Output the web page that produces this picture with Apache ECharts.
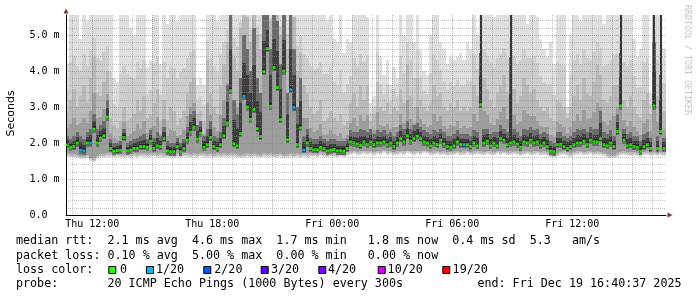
<!DOCTYPE html>
<html><head><meta charset="utf-8">
<script src="https://cdn.jsdelivr.net/npm/echarts@6/dist/echarts.min.js"></script>
<style>html,body{margin:0;padding:0;background:#fff}#c{width:697px;height:297px}</style>
</head><body><div id="c"></div>
<script>
// ---- time axis: hours since Thu 00:00 ----
const START_H = 10.75;      // first 10-min sample (Thu 10:45)
const STEP_H = 1 / 6;       // 10 minutes
const X_MIN = 10.685, X_MAX = 40.685;
const Y_MAX = 5.5556;       // ms

const X_LABEL_TICKS = [12, 18, 24, 30, 36];
const X_MAJOR_TICKS = [12, 15, 18, 21, 24, 27, 30, 33, 36, 39];
const X_MINOR_TICKS = [11, 13, 14, 16, 17, 19, 20, 22, 23, 25, 26, 28, 29, 31, 32, 34, 35, 37, 38, 40];
const Y_LABEL_TICKS = [0, 1, 2, 3, 4, 5];
const Y_MINOR_TICKS = [0.2, 0.4, 0.6, 0.8, 1.2, 1.4, 1.6, 1.8, 2.2, 2.4, 2.6, 2.8, 3.2, 3.4, 3.6, 3.8, 4.2, 4.4, 4.6, 4.8, 5.2, 5.4];

// median rtt (ms)
const MED = [
 1.95,1.88,1.9,2.0,1.8,1.78,2.0,2.0,2.38,2.0,
 2.13,2.2,2.72,1.85,1.77,1.79,1.8,2.15,1.78,1.8,
 1.85,1.85,1.9,1.9,1.88,2.05,1.85,1.92,1.9,2.12,
 1.78,1.75,1.75,1.9,1.75,1.85,2.08,2.3,2.44,2.11,
 2.27,1.88,1.95,2.15,1.9,1.85,1.95,2.2,2.55,3.45,
 1.98,1.92,2.26,3.3,3.0,2.66,2.93,2.4,2.18,3.98,
 4.62,3.02,4.1,3.54,2.65,4.0,2.09,3.48,2.99,1.95,
 2.42,1.81,2.0,1.85,1.81,1.81,1.88,1.85,1.78,1.8,
 1.82,1.78,1.78,1.77,1.85,2.03,2.0,1.97,1.93,2.03,
 1.95,2.03,1.95,2.0,2.0,2.03,1.95,2.0,1.9,2.0,
 2.12,2.03,2.2,2.05,2.12,2.19,2.12,2.03,2.0,1.92,
 2.0,1.95,2.08,1.97,1.9,1.88,1.92,2.03,1.95,1.95,
 1.95,1.9,2.0,1.92,3.06,2.0,2.05,1.92,2.0,1.92,
 2.12,2.08,1.95,2.0,2.03,1.97,1.88,2.03,2.0,2.08,
 2.0,2.03,1.92,2.0,1.9,1.77,1.75,1.95,1.97,1.9,
 1.85,1.9,1.95,2.0,2.0,2.05,1.95,2.08,2.03,2.03,
 2.12,1.95,1.92,2.0,1.9,2.32,3.03,2.08,1.92,1.95,
 1.9,1.88,1.77,1.9,1.95,1.85,3.03,1.85,2.32,1.85
];
// lowest ping (bottom of smoke)
const LO = [
 1.62,1.6,1.6,1.58,1.55,1.55,1.58,1.5,1.48,1.55,
 1.6,1.6,1.62,1.62,1.6,1.62,1.6,1.6,1.62,1.6,
 1.62,1.6,1.63,1.62,1.6,1.62,1.63,1.6,1.62,1.6,
 1.6,1.6,1.58,1.62,1.6,1.62,1.62,1.6,1.62,1.6,
 1.63,1.62,1.6,1.62,1.6,1.62,1.6,1.62,1.6,1.62,
 1.62,1.6,1.58,1.6,1.62,1.6,1.62,1.6,1.58,1.62,
 1.6,1.62,1.6,1.6,1.62,1.58,1.6,1.62,1.6,1.62,
 1.6,1.62,1.6,1.62,1.63,1.6,1.65,1.62,1.6,1.63,
 1.62,1.6,1.63,1.6,1.65,1.68,1.7,1.66,1.68,1.7,
 1.68,1.7,1.66,1.7,1.68,1.72,1.68,1.7,1.66,1.68,
 1.7,1.68,1.72,1.7,1.68,1.7,1.68,1.72,1.7,1.66,
 1.68,1.7,1.66,1.68,1.65,1.66,1.68,1.7,1.66,1.68,
 1.7,1.66,1.68,1.7,1.68,1.66,1.7,1.68,1.66,1.7,
 1.68,1.7,1.66,1.68,1.7,1.68,1.65,1.68,1.7,1.66,
 1.68,1.7,1.66,1.68,1.65,1.6,1.6,1.63,1.66,1.68,
 1.65,1.62,1.66,1.68,1.7,1.66,1.68,1.7,1.66,1.68,
 1.66,1.64,1.6,1.57,1.58,1.62,1.66,1.68,1.66,1.65,
 1.66,1.64,1.62,1.66,1.68,1.65,1.66,1.64,1.66,1.65
];
// highest ping (top of light smoke; values above the axis are clipped)
const HI = [
 4.2,6,6,6,4.9,6,5.4,6,6,6,
 6,6,6,6,3.8,3.7,6,6,6,5.2,
 5.0,6,6,6,4.1,4.3,6,6,4.2,6,
 5.3,6,6,5.4,6,6,6,6,6,3.6,
 3.8,3.6,6,6,6,5.4,6,6,6,6,
 6,6,6,6,6,6,6,6,6,6,
 6,6,6,6,6,6,6,6,6,6,
 6,6,6,5.6,6,6,6,6,5.4,6,
 4.9,4.8,6,4.5,4.9,4.8,6,6,6,6,
 5.5,3.1,3.3,6,4.4,3.9,4.3,3.6,4.1,3.8,
 6,5.0,6,6,4.8,5.9,4.6,4.0,3.9,5.0,
 6,6,4.8,4.6,4.2,4.4,4.3,4.4,4.5,4.3,
 4.8,4.6,6,5.0,6,6,6,6,5.5,6,
 6,6,6,6,6,6,6,6,5.3,6,
 6,5.5,4.9,4.6,4.4,4.8,4.2,6,6,6,
 3.0,5.0,6,6,5.4,6,6,6,6,6,
 6,5.3,6,6,6,6,6,6,6,6,
 4.9,4.4,4.6,6,6,3.4,6,6,6,4.6
];
// top of the medium-grey smoke
const MD = [
 2.9,3.2,3.5,3.0,3.3,3.6,3.1,3.8,4.4,3.4,
 3.3,3.7,4.0,2.7,2.5,2.4,2.6,3.0,2.6,2.7,
 2.8,3.2,2.9,3.3,2.7,2.8,3.1,3.5,2.6,3.2,
 2.6,3.0,2.9,2.5,2.7,2.9,3.4,3.7,3.8,2.8,
 2.9,2.6,4.3,3.4,3.0,2.8,3.6,4.2,4.8,6,
 4.4,4.0,5.2,6,5.5,4.8,6,5.0,4.6,6,
 6,5.4,6,6,5.0,6,4.6,6,5.5,4.0,
 4.5,3.6,3.4,3.0,2.8,2.9,3.2,2.6,2.7,2.9,
 2.7,2.6,2.8,2.5,2.6,3.1,3.4,3.0,3.6,3.2,
 3.6,2.6,2.8,3.7,3.0,2.9,3.1,2.8,3.0,2.9,
 3.5,3.1,4.2,3.3,3.0,3.8,3.2,3.0,2.9,3.1,
 3.6,3.3,3.4,3.0,2.9,3.1,3.0,3.2,2.9,3.0,
 2.9,3.0,3.6,3.3,4.5,3.8,3.5,3.2,3.0,3.4,
 3.6,3.9,3.4,4.4,3.5,3.1,3.3,3.8,3.6,3.4,
 3.5,3.2,3.0,2.9,3.0,2.7,2.6,3.2,3.1,3.0,
 2.7,3.0,3.3,3.6,3.2,3.8,3.4,3.3,3.7,4.2,
 3.9,3.2,3.1,3.3,3.6,3.6,4.5,3.2,3.0,3.3,
 3.0,2.8,2.7,3.2,3.4,2.8,4.8,3.3,3.9,2.9
];
// top of the dark smoke
const DK = [
 2.2,2.1,2.2,2.3,2.2,2.1,2.3,2.4,2.8,2.4,
 2.5,2.6,3.2,2.1,2.0,2.0,2.05,2.4,2.0,2.05,
 2.1,2.15,2.2,2.25,2.1,2.35,2.15,2.3,2.2,2.45,
 2.05,2.0,2.0,2.15,2.0,2.1,2.45,2.8,2.9,2.5,
 2.6,2.2,2.4,2.6,2.2,2.15,2.3,2.7,3.6,6,
 3.2,2.8,3.8,5.0,4.6,4.0,5.2,3.8,3.4,6,
 6,4.6,6,5.4,4.2,6,3.4,5.6,4.6,3.0,
 3.8,2.2,2.4,2.15,2.1,2.1,2.2,2.1,2.05,2.1,
 2.1,2.05,2.05,2.05,2.1,2.35,2.3,2.3,2.4,2.35,
 2.3,2.4,2.25,2.35,2.3,2.35,2.25,2.3,2.2,2.3,
 2.5,2.4,2.6,2.4,2.5,2.55,2.45,2.35,2.3,2.25,
 2.35,2.3,2.4,2.3,2.2,2.2,2.25,2.35,2.25,2.25,
 2.25,2.2,2.35,2.3,6,2.4,2.4,2.25,2.3,2.3,
 2.5,2.4,2.3,6,2.4,2.3,2.2,2.4,2.35,2.45,
 2.35,2.4,2.25,2.3,2.25,2.05,2.0,2.3,2.3,2.2,
 2.15,2.2,2.3,2.4,2.35,2.4,2.3,2.45,2.4,2.4,
 2.9,2.3,2.25,2.35,2.2,2.8,6,2.4,2.25,2.3,
 2.2,2.2,2.05,2.25,2.3,2.15,6,2.2,6,2.15
];
// samples with packet loss (index, lost pings of 20)
const LOSS_AT = [4, 5, 7, 53, 67, 68, 71, 119];
const LOSS_N  = [1, 1, 1, 1, 1, 1, 1, 1];

const LOSS_LABELS = ['0', '1/20', '2/20', '3/20', '4/20', '10/20', '19/20'];
const LOSS_STEPS  = [0, 1, 2, 3, 4, 10, 19];
const LOSS_COLORS = ['#26ff00', '#00b8ff', '#0059ff', '#5e00ff', '#7e00ff', '#dd00ff', '#ff0000'];

const LEGEND_LINES = [
  'median rtt:  2.1 ms avg  4.6 ms max  1.7 ms min   1.8 ms now  0.4 ms sd  5.3   am/s',
  'packet loss: 0.10 % avg  5.00 % max  0.00 % min   0.00 % now',
  'loss color:',
  'probe:       20 ICMP Echo Pings (1000 Bytes) every 300s'
];
const END_TEXT = 'end: Fri Dec 19 16:40:37 2025';

// ---------- build ----------
const TIMES = MED.map((_, i) => START_H + i * STEP_H);
const LOSS = MED.map(() => 0);
LOSS_AT.forEach((idx, k) => { LOSS[idx] = LOSS_N[k]; });
function lossColor(n) {
  let c = LOSS_COLORS[0];
  LOSS_STEPS.forEach((s, k) => { if (n >= s) c = LOSS_COLORS[k]; });
  return c;
}

const MONO = '"DejaVu Sans Mono", monospace';
const chart = echarts.init(document.getElementById('c'), null, { renderer: 'canvas' });

const smokeData = TIMES.map((t, i) => [t, LO[i], HI[i], MD[i], DK[i], MED[i]]);
const medData = TIMES.map((t, i) => [t, MED[i], LOSS[i]]);

function xfmt(v) {
  const day = v < 24 ? 'Thu' : 'Fri';
  const h = Math.round(v) % 24;
  return day + ' ' + String(h).padStart(2, '0') + ':00';
}

const graphics = [];
const LINE_Y = [241, 255.7, 270, 284.3];
LEGEND_LINES.forEach((txt, k) => {
  graphics.push({ type: 'text', x: 16, y: LINE_Y[k], style: { text: txt, font: '11.7px ' + MONO, fill: '#000', verticalAlign: 'middle' } });
});
graphics.push({ type: 'text', x: 681.5, y: LINE_Y[3], style: { text: END_TEXT, font: '11.7px ' + MONO, fill: '#000', align: 'right', verticalAlign: 'middle' } });
const BOX_X = [108.3, 146, 203.3, 260.7, 318.3, 377.7, 442.3];
const LAB_X = [120, 156, 214.3, 271, 328, 387.6, 452.6];
LOSS_LABELS.forEach((lab, k) => {
  graphics.push({ type: 'rect', shape: { x: BOX_X[k] + 0.5, y: 266.5, width: 7, height: 7 }, style: { fill: LOSS_COLORS[k], stroke: '#000', lineWidth: 1 } });
  graphics.push({ type: 'text', x: LAB_X[k], y: LINE_Y[2], style: { text: lab, font: '11.7px ' + MONO, fill: '#000', verticalAlign: 'middle' } });
});
graphics.push({ type: 'text', x: 11, y: 113.5, rotation: Math.PI / 2, style: { text: 'Seconds', font: '11px "DejaVu Sans"', fill: '#000', align: 'center', verticalAlign: 'middle' } });
graphics.push({ type: 'text', x: 687.5, y: 5, rotation: -Math.PI / 2, style: { text: 'RRDTOOL / TOBI OETIKER', font: '8.3px ' + MONO, fill: '#c4c4c4', align: 'left', verticalAlign: 'middle' } });

const GRID_MINOR = { show: true, lineStyle: { color: 'rgba(143,143,143,0.55)', type: [1, 1], width: 1 } };
const GRID_MAJOR = { show: true, lineStyle: { color: 'rgba(222,80,80,0.55)', type: [1, 1], width: 1 } };

chart.setOption({
  animation: false,
  backgroundColor: '#fff',
  grid: { left: 66, top: 15, width: 600, height: 200 },
  xAxis: [
    { type: 'value', min: X_MIN, max: X_MAX, position: 'bottom', z: 6,
      axisLine: { show: true, lineStyle: { color: '#000', width: 1 } },
      axisTick: { show: false, customValues: X_LABEL_TICKS },
      axisLabel: { customValues: X_LABEL_TICKS, formatter: xfmt, fontFamily: MONO, fontSize: 10, color: '#000', margin: 4 },
      splitLine: { show: false } },
    { type: 'value', min: X_MIN, max: X_MAX, position: 'bottom', z: 5,
      axisLine: { show: true, symbol: ['none', 'triangle'], symbolSize: [5, 5], symbolOffset: [0, 4], lineStyle: { color: '#7f3131', width: 0.01 } },
      axisTick: { show: false, customValues: X_MAJOR_TICKS },
      axisLabel: { show: false },
      splitLine: GRID_MAJOR },
    { type: 'value', min: X_MIN, max: X_MAX, position: 'bottom', z: 4,
      axisLine: { show: false },
      axisTick: { show: false, customValues: X_MINOR_TICKS },
      axisLabel: { show: false },
      splitLine: GRID_MINOR }
  ],
  yAxis: [
    { type: 'value', min: 0, max: Y_MAX, position: 'left', z: 6,
      axisLine: { show: true, lineStyle: { color: '#000', width: 1 } },
      axisTick: { show: false, customValues: Y_LABEL_TICKS },
      axisLabel: { customValues: Y_LABEL_TICKS, formatter: v => v === 0 ? '0.0' : v.toFixed(1) + ' m', fontFamily: MONO, fontSize: 10, color: '#000', align: 'left', margin: 36.5 },
      splitLine: GRID_MAJOR },
    { type: 'value', min: 0, max: Y_MAX, position: 'left', z: 5,
      axisLine: { show: true, symbol: ['none', 'triangle'], symbolSize: [5, 5], symbolOffset: [0, 4], lineStyle: { color: '#7f3131', width: 0.01 } },
      axisTick: { show: false, customValues: Y_MINOR_TICKS },
      axisLabel: { show: false },
      splitLine: GRID_MINOR }
  ],
  graphic: graphics,
  series: [
    { type: 'custom', xAxisIndex: 0, yAxisIndex: 0, z: 1, silent: true,
      data: smokeData, encode: { x: 0, y: [1, 2] },
      renderItem: (params, api) => {
        const t = api.value(0), lo = api.value(1);
        const hi = Math.min(api.value(2), Y_MAX), md = Math.min(api.value(3), Y_MAX);
        const dkRaw = Math.min(api.value(4), Y_MAX), med = api.value(5);
        const w = api.size([STEP_H, 0])[0];
        const cx = api.coord([t, 0])[0];
        const x0 = Math.round(cx - w / 2), x1 = Math.round(cx + w / 2);
        const band = (a, b, fill, nx0, nx1) => {
          const ya = Math.round(api.coord([t, a])[1]), yb = Math.round(api.coord([t, b])[1]);
          const xa = nx0 == null ? x0 : nx0, xb = nx1 == null ? x1 : nx1;
          return { type: 'rect', shape: { x: xa, y: yb, width: xb - xa, height: Math.max(0, ya - yb) }, style: { fill } };
        };
        const dk = Math.min(dkRaw, md);          // wide dark smoke stays inside medium smoke
        const kids = [
          band(lo, hi, '#dedede'),
          band(lo + 0.02, md + 0.45 * (hi - md), '#cdcdcd'),
          band(lo + 0.05, md, '#b9b9b9'),
          band(lo + 0.09, med + 0.5 * (md - med), '#9d9d9d'),
          band(med - 0.1, dk, '#6c6c6c'),
          band(med - 0.06, med + 0.55 * (dk - med), '#3e3e3e'),
          band(med - 0.03, Math.min(med + 0.08, dk), '#262626')
        ];
        if (dkRaw > md) {                         // a single burst: thin dark streak
          const mid = Math.round(cx);
          kids.push(band(med, dkRaw, '#333333', mid - 1, mid + 1));
        }
        return { type: 'group', children: kids };
      } },
    { type: 'scatter', xAxisIndex: 0, yAxisIndex: 0, z: 10, silent: true,
      data: medData, symbol: 'rect', symbolSize: 3,
      itemStyle: { color: p => lossColor(p.value[2]) } }
  ]
});
</script>
</body></html>
